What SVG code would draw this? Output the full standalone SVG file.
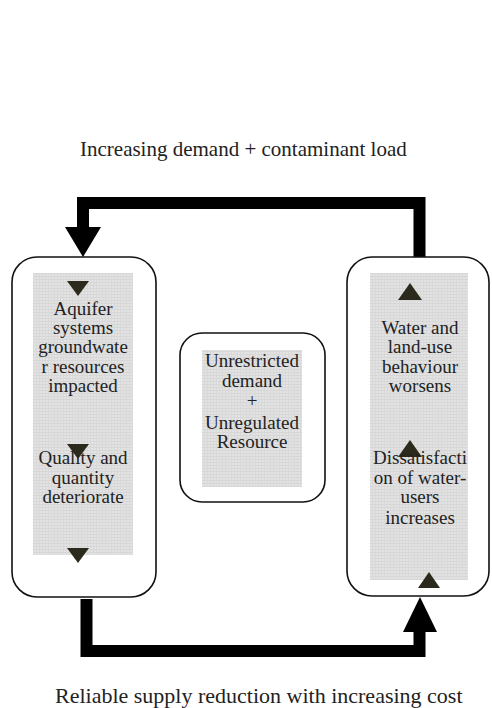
<svg xmlns="http://www.w3.org/2000/svg" width="492" height="708" viewBox="0 0 492 708">
<style>
.box{fill:#fff;stroke:#111;stroke-width:1.6}
.shade{fill:url(#grid)}
.t{font-family:"Liberation Serif","Times New Roman",serif;font-size:19px;fill:#222;text-anchor:middle}
.cap{font-family:"Liberation Serif","Times New Roman",serif;fill:#222}
.tri{fill:#2b2a1c}
.flow{fill:none;stroke:#000;stroke-width:12;stroke-linejoin:miter}
.head{fill:#000}
</style>
<defs>
<pattern id="grid" width="3" height="3" patternUnits="userSpaceOnUse">
<rect width="3" height="3" fill="#e3e3e3"/>
<rect width="3" height="1" fill="#d6d6d6"/>
<rect width="1" height="3" fill="#d9d9d9"/>
</pattern>
</defs>
<rect width="492" height="708" fill="#fff"/>
<text class="cap" x="80" y="156" font-size="21">Increasing demand + contaminant load</text>
<text class="cap" x="55" y="703" font-size="22">Reliable supply reduction with increasing cost</text>
<g id="connectors">
<path class="flow" d="M419.5 257 V203 H83 V228"/>
<polygon class="head" points="65,227 101,227 83,257"/>
<path class="flow" d="M86.5 599 V651 H419.5 V631"/>
<polygon class="head" points="403,632 437,632 420,597"/>
</g>
<g id="left">
<rect class="box" x="12" y="257" width="144" height="340" rx="25"/>
<rect class="shade" x="33" y="273" width="100" height="282"/>
<polygon class="tri" points="67,281 89,281 78,296"/>
<polygon class="tri" points="67,444 89,444 78,459"/>
<polygon class="tri" points="67,548 89,548 78,563"/>
<text class="t" x="83" y="315">Aquifer</text>
<text class="t" x="83" y="334">systems</text>
<text class="t" x="83" y="353">groundwate</text>
<text class="t" x="83" y="373">r resources</text>
<text class="t" x="83" y="392">impacted</text>
<text class="t" x="83" y="464">Quality and</text>
<text class="t" x="83" y="484">quantity</text>
<text class="t" x="83" y="503">deteriorate</text>
</g>
<g id="center">
<rect class="box" x="180" y="333" width="145" height="169" rx="22"/>
<rect class="shade" x="202" y="350" width="100" height="137"/>
<text class="t" x="252" y="367">Unrestricted</text>
<text class="t" x="252" y="387">demand</text>
<text class="t" x="252" y="407">+</text>
<text class="t" x="252" y="429">Unregulated</text>
<text class="t" x="252" y="448">Resource</text>
</g>
<g id="right">
<rect class="box" x="347" y="257" width="142" height="339" rx="25"/>
<rect class="shade" x="370" y="273" width="98" height="307"/>
<polygon class="tri" points="398,300 422,300 410,283"/>
<polygon class="tri" points="398,457 422,457 410,440"/>
<polygon class="tri" points="418,588 440,588 429,572"/>
<text class="t" x="420" y="334">Water and</text>
<text class="t" x="420" y="353">land-use</text>
<text class="t" x="420" y="373">behaviour</text>
<text class="t" x="420" y="392">worsens</text>
<text class="t" x="420" y="464">Dissatisfacti</text>
<text class="t" x="420" y="484">on of water-</text>
<text class="t" x="420" y="503">users</text>
<text class="t" x="420" y="524">increases</text>
</g>
</svg>
